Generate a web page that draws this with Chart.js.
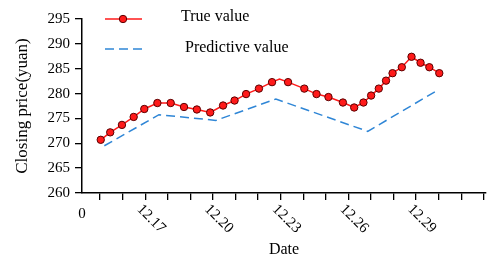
<!DOCTYPE html>
<html>
<head>
<meta charset="utf-8">
<script src="https://cdn.jsdelivr.net/npm/chart.js@4"></script>
<style>
  html, body { margin: 0; padding: 0; background: #fff; }
  canvas { display: block; }
</style>
</head>
<body>
<canvas id="chart" width="491" height="261"></canvas>
<script>
const FONT = "'Liberation Serif', 'Times New Roman', serif";

// true closing price (x = day index on axis)
const trueX = [1.03, 1.45, 1.97, 2.49, 2.96, 3.54, 4.13, 4.72, 5.29, 5.88, 6.45, 6.96, 7.47, 8.04, 8.62, 8.95,
  9.33, 10.05, 10.59, 11.12, 11.76, 12.26, 12.67, 13.01, 13.35, 13.67, 13.96, 14.37, 14.8, 15.2, 15.59, 16.03];
const trueY = [270.7, 272.2, 273.7, 275.3, 276.9, 278.1, 278.1, 277.3, 276.8, 276.2, 277.6, 278.6, 279.9, 281.0, 282.3, 282.9,
  282.3, 281.0, 279.9, 279.3, 278.2, 277.2, 278.2, 279.6, 281.0, 282.6, 284.1, 285.3, 287.4, 286.2, 285.3, 284.1];
// the peak vertex has no marker
const trueMarker = trueX.map((_, i) => (i === 15 ? 0 : 3.7));

// predicted closing price
const predX = [1.19, 3.61, 6.13, 8.79, 12.86, 15.94];
const predY = [269.5, 275.75, 274.6, 278.9, 272.4, 280.64];

const dayTicks = [1, 2, 3, 4, 5, 6, 7, 8, 9, 10, 11, 12, 13, 14, 15, 16, 17, 18];
const labelTicks = [3, 6, 9, 12, 15];
const dateLabels = ["12.17", "12.20", "12.23", "12.26", "12.29"];
const yTicks = [260, 265, 270, 275, 280, 285, 290, 295];

const RED = "#ff1a1a";
const BLUE = "#2f86d6";

const xLabels = {
  id: "xLabels",
  afterDraw(chart) {
    const { ctx, scales } = chart;
    const x = scales.x;
    const y0 = x.top;
    ctx.save();
    ctx.fillStyle = "#000";
    ctx.font = "15px " + FONT;
    ctx.textAlign = "center";
    ctx.textBaseline = "middle";
    ctx.fillText("0", x.left, y0 + 21);
    labelTicks.forEach((v, i) => {
      const px = x.getPixelForValue(v);
      ctx.save();
      ctx.translate(px - 6, y0 + 14);
      ctx.rotate(Math.PI / 4);
      ctx.textAlign = "left";
      ctx.fillText(dateLabels[i], 0, 0);
      ctx.restore();
    });
    ctx.restore();
  },
};

const legendBox = {
  id: "legendBox",
  afterDraw(chart) {
    const { ctx } = chart;
    ctx.save();
    // true value
    ctx.strokeStyle = RED;
    ctx.lineWidth = 1.5;
    ctx.beginPath();
    ctx.moveTo(105, 19);
    ctx.lineTo(142, 19);
    ctx.stroke();
    ctx.beginPath();
    ctx.arc(123, 19, 3.7, 0, Math.PI * 2);
    ctx.fillStyle = RED;
    ctx.fill();
    ctx.strokeStyle = "#5a0000";
    ctx.lineWidth = 1;
    ctx.stroke();
    // predictive value
    ctx.strokeStyle = BLUE;
    ctx.lineWidth = 1.5;
    ctx.setLineDash([9, 5]);
    ctx.beginPath();
    ctx.moveTo(105, 49);
    ctx.lineTo(142, 49);
    ctx.stroke();
    ctx.setLineDash([]);
    ctx.fillStyle = "#000";
    ctx.font = "16px " + FONT;
    ctx.textBaseline = "middle";
    ctx.fillText("True value", 181, 17);
    ctx.fillText("Predictive value", 185, 48);
    ctx.restore();
  },
};

new Chart(document.getElementById("chart"), {
  type: "line",
  data: {
    datasets: [
      {
        label: "True value",
        data: trueX.map((x, i) => ({ x, y: trueY[i] })),
        borderColor: RED,
        borderWidth: 1.5,
        pointRadius: trueMarker,
        pointBackgroundColor: RED,
        pointBorderColor: "#5a0000",
        pointBorderWidth: 1,
        tension: 0,
      },
      {
        label: "Predictive value",
        data: predX.map((x, i) => ({ x, y: predY[i] })),
        borderColor: BLUE,
        borderWidth: 1.5,
        borderDash: [9, 5],
        pointRadius: 0,
        tension: 0,
      },
    ],
  },
  options: {
    responsive: false,
    animation: false,
    layout: { padding: { left: 0, top: 19, right: 2, bottom: 0 } },
    plugins: { legend: { display: false }, tooltip: { enabled: false } },
    scales: {
      x: {
        type: "linear",
        min: 0.2,
        max: 18.1,
        afterBuildTicks: (s) => { s.ticks = dayTicks.map((v) => ({ value: v })); },
        afterFit: (s) => { s.height = 68; },
        ticks: { display: false },
        grid: { display: true, drawOnChartArea: false, drawTicks: true, tickLength: 7, color: "#000", lineWidth: 1.3 },
        border: { display: true, color: "#000", width: 1.5 },
        title: {
          display: true,
          text: "Date",
          color: "#000",
          font: { family: FONT, size: 16 },
          padding: { top: 2, bottom: 2 },
        },
      },
      y: {
        min: 260,
        max: 295,
        afterBuildTicks: (s) => { s.ticks = yTicks.map((v) => ({ value: v })); },
        afterFit: (s) => { s.width = 82; },
        ticks: { color: "#000", font: { family: FONT, size: 15 }, padding: 5 },
        grid: { display: true, drawOnChartArea: false, drawTicks: true, tickLength: 7, color: "#000", lineWidth: 1.3 },
        border: { display: true, color: "#000", width: 1.5 },
        title: {
          display: true,
          text: "Closing price(yuan)",
          color: "#000",
          font: { family: FONT, size: 17 },
          padding: { top: 12, bottom: 0 },
        },
      },
    },
  },
  plugins: [xLabels, legendBox],
});
</script>
</body>
</html>
